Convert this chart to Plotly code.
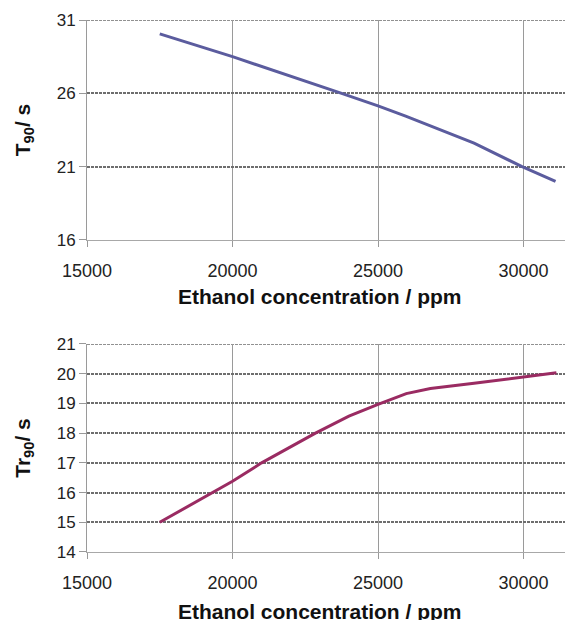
import plotly.graph_objects as go

# Top chart: T90 vs ethanol concentration
conc_top = [17500, 20000, 23750, 25000, 25950, 28300, 29950, 31100]
t90 = [30.05, 28.5, 26.0, 25.15, 24.45, 22.6, 21.0, 20.0]

# Bottom chart: Tr90 vs ethanol concentration
conc_bot = [17500, 20000, 21000, 22850, 24000, 25000, 25970, 26800, 28300, 30000, 31130]
tr90 = [15.0, 16.38, 17.0, 18.0, 18.57, 18.97, 19.33, 19.5, 19.68, 19.9, 20.03]

x_ticks = [15000, 20000, 25000, 30000]
top_y_ticks = [16, 21, 26, 31]
bot_y_ticks = [14, 15, 16, 17, 18, 19, 20, 21]

X_TITLE = "Ethanol concentration / ppm"

FONT = "Liberation Sans, Arial, sans-serif"
TOP_COLOR = "#5b5c9e"
BOT_COLOR = "#9a2b62"
HGRID = "#6e6e6e"

fig = go.Figure()
fig.add_trace(go.Scatter(x=conc_top, y=t90, mode="lines",
                         line=dict(color=TOP_COLOR, width=3),
                         xaxis="x", yaxis="y", showlegend=False))
fig.add_trace(go.Scatter(x=conc_bot, y=tr90, mode="lines",
                         line=dict(color=BOT_COLOR, width=3),
                         xaxis="x2", yaxis="y2", showlegend=False))

xcommon = dict(range=[15000, 31700], tickvals=x_ticks, ticktext=[str(v) for v in x_ticks],
               showgrid=True, gridcolor="#9a9a9a", gridwidth=1,
               showline=True, linecolor="#a8a8a8", linewidth=1,
               ticks="outside", ticklen=6, tickcolor="#999999", ticklabelstandoff=8,
               tickfont=dict(family=FONT, size=18, color="#222222"),
               zeroline=False, fixedrange=True)
ycommon = dict(showgrid=True, gridcolor=HGRID, gridwidth=1.5, griddash="3px,1px",
               showline=True, linecolor="#9a9a9a", linewidth=1,
               ticks="outside", ticklen=7, tickcolor="#999999",
               tickfont=dict(family=FONT, size=17, color="#222222"),
               zeroline=False, fixedrange=True)

title_font = dict(family=FONT, size=21, color="#111111", weight="bold")

# top-edge gridlines (plotly drops gridlines at the range edge)
shapes = [
    dict(type="line", xref="x domain", yref="y", x0=0, x1=1, y0=top_y_ticks[-1], y1=top_y_ticks[-1],
         line=dict(color=HGRID, width=1.5, dash="3px,1px"), layer="below"),
    dict(type="line", xref="x2 domain", yref="y2", x0=0, x1=1, y0=bot_y_ticks[-1], y1=bot_y_ticks[-1],
         line=dict(color=HGRID, width=1.5, dash="3px,1px"), layer="below"),
]

annotations = [
    dict(text=X_TITLE, xref="x domain", yref="y domain", x=0.479, y=0, yshift=-57,
         showarrow=False, xanchor="center", yanchor="middle", font=title_font),
    dict(text=X_TITLE, xref="x2 domain", yref="y2 domain", x=0.479, y=0, yshift=-59,
         showarrow=False, xanchor="center", yanchor="middle", font=title_font),
]

fig.update_layout(
    width=565, height=612,
    margin=dict(l=79, r=0, t=12, b=68),
    paper_bgcolor="white", plot_bgcolor="white",
    shapes=shapes, annotations=annotations,
    xaxis=dict(xcommon, domain=[0, 1], anchor="y"),
    yaxis=dict(ycommon, domain=[0.5865, 1], anchor="x", range=[16, 31], tickvals=top_y_ticks,
               title=dict(text="T<sub>90</sub>/ s", font=title_font, standoff=20)),
    xaxis2=dict(xcommon, domain=[0, 1], anchor="y2"),
    yaxis2=dict(ycommon, domain=[0, 0.391], anchor="x2", range=[14, 21], tickvals=bot_y_ticks,
                title=dict(text="Tr<sub>90</sub>/ s", font=title_font, standoff=20)),
)

fig.write_html("out.html")
